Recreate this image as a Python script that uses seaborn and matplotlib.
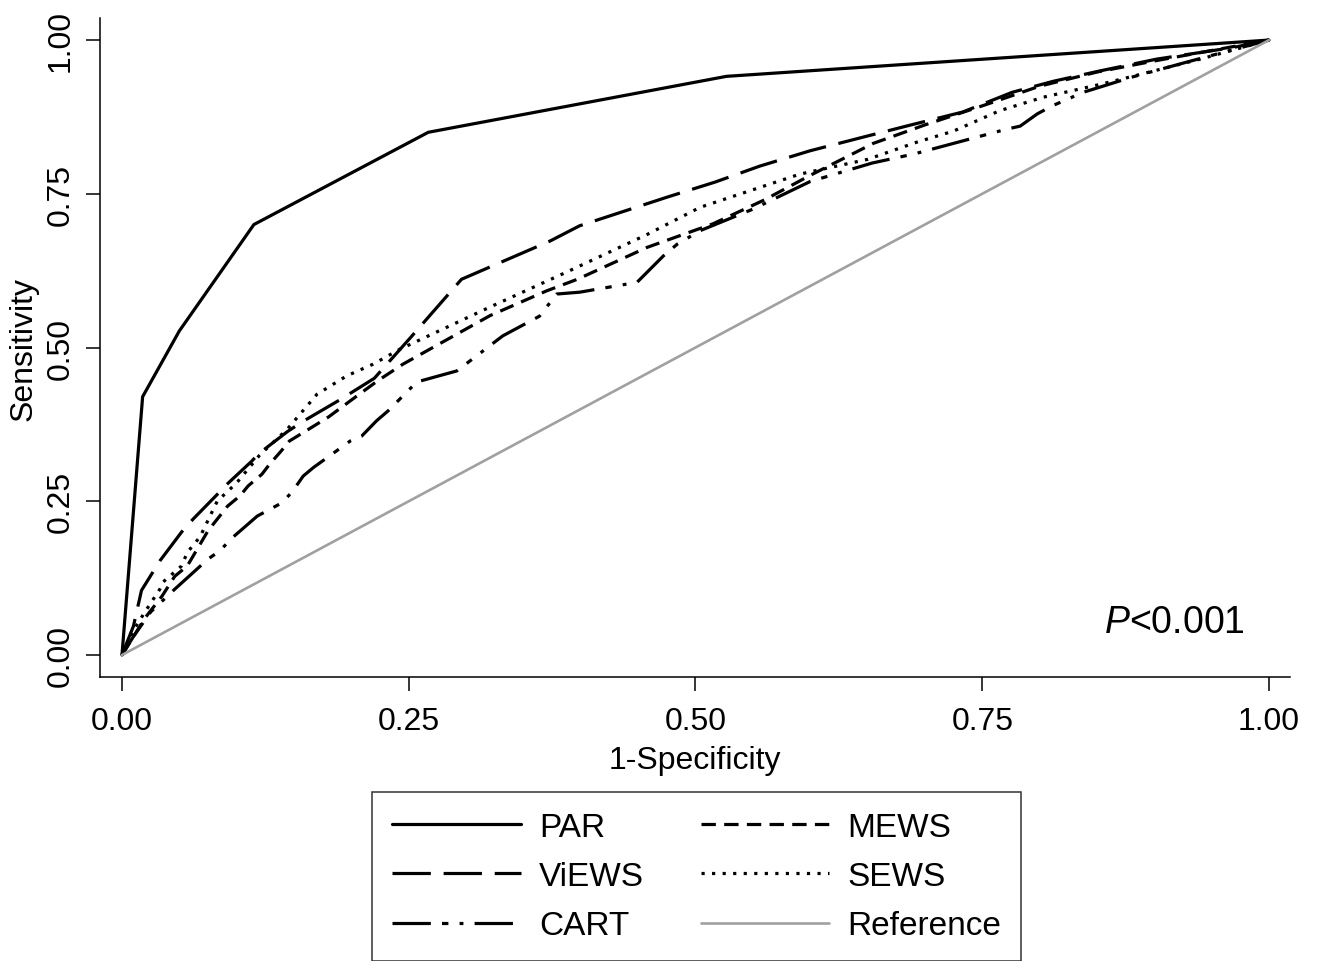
import matplotlib
matplotlib.use("Agg")
import matplotlib.pyplot as plt
import seaborn as sns

# ROC points (1-specificity, sensitivity)
par_x = [0.0, 0.018, 0.05, 0.115, 0.267, 0.527, 1.0]
par_y = [0.0, 0.42, 0.527, 0.70, 0.85, 0.941, 1.0]

views_x = [0.0, 0.01, 0.017, 0.027, 0.033, 0.052, 0.062, 0.083, 0.09, 0.113, 0.119, 0.144,
           0.157, 0.19, 0.22, 0.251, 0.296, 0.373, 0.399, 0.476, 0.517, 0.556, 0.6, 0.65,
           0.69, 0.733, 0.776, 0.812, 0.853, 0.902, 0.969, 1.0]
views_y = [0.0, 0.047, 0.105, 0.135, 0.153, 0.2, 0.221, 0.261, 0.275, 0.315, 0.327, 0.363,
           0.379, 0.415, 0.45, 0.515, 0.611, 0.673, 0.698, 0.745, 0.769, 0.795, 0.82, 0.844,
           0.863, 0.883, 0.915, 0.933, 0.95, 0.969, 0.988, 1.0]

cart_x = [0.0, 0.01, 0.025, 0.046, 0.075, 0.085, 0.097, 0.118, 0.14, 0.149, 0.158, 0.167,
          0.199, 0.209, 0.222, 0.232, 0.257, 0.292, 0.332, 0.364, 0.379, 0.399, 0.449, 0.472,
          0.484, 0.504, 0.55, 0.6, 0.654, 0.691, 0.733, 0.771, 0.783, 0.798, 0.811, 0.838,
          0.881, 0.928, 1.0]
cart_y = [0.0, 0.03, 0.07, 0.107, 0.156, 0.169, 0.192, 0.226, 0.248, 0.267, 0.291, 0.305,
          0.348, 0.356, 0.381, 0.397, 0.444, 0.462, 0.519, 0.551, 0.587, 0.59, 0.606, 0.649,
          0.668, 0.69, 0.725, 0.77, 0.80, 0.815, 0.836, 0.855, 0.86, 0.88, 0.893, 0.915,
          0.94, 0.964, 1.0]

mews_x = [0.0, 0.01, 0.02, 0.035, 0.046, 0.057, 0.075, 0.092, 0.103, 0.11, 0.122, 0.129,
          0.138, 0.146, 0.16, 0.18, 0.201, 0.223, 0.245, 0.321, 0.37, 0.397, 0.458, 0.515,
          0.56, 0.6, 0.655, 0.7, 0.75, 0.8, 0.85, 0.9, 0.95, 1.0]
mews_y = [0.0, 0.03, 0.06, 0.096, 0.128, 0.145, 0.202, 0.242, 0.259, 0.275, 0.294, 0.311,
          0.33, 0.348, 0.364, 0.387, 0.416, 0.446, 0.473, 0.552, 0.592, 0.611, 0.663, 0.701,
          0.74, 0.78, 0.832, 0.862, 0.893, 0.925, 0.948, 0.966, 0.983, 1.0]

sews_x = [0.0, 0.01, 0.02, 0.033, 0.036, 0.052, 0.057, 0.068, 0.083, 0.1, 0.12, 0.144,
          0.17, 0.196, 0.219, 0.242, 0.321, 0.388, 0.458, 0.504, 0.591, 0.65, 0.693, 0.725,
          0.765, 0.803, 0.853, 0.881, 0.94, 1.0]
sews_y = [0.0, 0.04, 0.07, 0.107, 0.119, 0.145, 0.167, 0.192, 0.25, 0.28, 0.325, 0.367,
          0.424, 0.454, 0.473, 0.497, 0.566, 0.623, 0.684, 0.728, 0.782, 0.806, 0.834, 0.852,
          0.885, 0.907, 0.928, 0.941, 0.969, 1.0]

ref_x = [0.0, 1.0]
ref_y = [0.0, 1.0]

ticks = [0.0, 0.25, 0.5, 0.75, 1.0]
tick_labels = ["0.00", "0.25", "0.50", "0.75", "1.00"]

sns.set_theme(style="ticks")
plt.rcParams['font.family'] = ['Liberation Sans', 'DejaVu Sans']
plt.rcParams['mathtext.fontset'] = 'custom'
plt.rcParams['mathtext.rm'] = 'Liberation Sans'
plt.rcParams['mathtext.it'] = 'Liberation Sans:italic'
plt.rcParams['text.color'] = 'black'

fig = plt.figure(figsize=(13.22, 9.62), dpi=100)
ax = fig.add_axes([0.076, 0.2952, 0.8998, 0.685])

lw = 2.3
sns.lineplot(x=par_x, y=par_y, ax=ax, color='black', lw=lw, linestyle='-',
             sort=False, estimator=None, label='PAR')
sns.lineplot(x=views_x, y=views_y, ax=ax, color='black', lw=lw, linestyle=(0, (12, 4)),
             sort=False, estimator=None, label='ViEWS')
sns.lineplot(x=cart_x, y=cart_y, ax=ax, color='black', lw=lw, linestyle=(0, (12, 3.5, 2, 3.5, 1.2, 3.5)),
             sort=False, estimator=None, label='CART')
sns.lineplot(x=mews_x, y=mews_y, ax=ax, color='black', lw=lw, linestyle=(0, (4.5, 2.6)),
             sort=False, estimator=None, label='MEWS')
sns.lineplot(x=sews_x, y=sews_y, ax=ax, color='black', lw=lw, linestyle=(0, (1.0, 2.3)),
             sort=False, estimator=None, label='SEWS')
sns.lineplot(x=ref_x, y=ref_y, ax=ax, color='#a0a0a0', lw=1.9, linestyle='-',
             sort=False, estimator=None, label='Reference')

ax.set_xlim(-0.01875, 1.0183)
ax.set_ylim(-0.0358, 1.0358)
ax.set_xticks(ticks)
ax.set_xticklabels(tick_labels)
ax.set_yticks(ticks)
ax.set_yticklabels(tick_labels, rotation=90, va='center')
ax.tick_params(axis='x', pad=11)
ax.tick_params(axis='y', pad=8)
ax.tick_params(axis='both', direction='out', length=10, width=1.1, color='black',
               labelsize=23, labelcolor='black')
for side in ['left', 'bottom']:
    ax.spines[side].set_color('black')
    ax.spines[side].set_linewidth(1.1)
sns.despine(ax=ax)

ax.set_xlabel('1-Specificity', fontsize=23, color='black', labelpad=6)
ax.set_ylabel('Sensitivity', fontsize=23, color='black', labelpad=5)

ax.text(0.979, 0.037, r'$\mathit{P}$<0.001', ha='right', va='baseline', fontsize=27, color='black')

handles, labels = ax.get_legend_handles_labels()
ax.get_legend().remove()
leg = fig.legend(handles, labels, ncol=2, loc='upper center', bbox_to_anchor=(0.527, 0.176),
                 fontsize=24, handlelength=3.85, handletextpad=0.55, columnspacing=1.7,
                 labelspacing=0.55, borderpad=0.6, borderaxespad=0, fancybox=False,
                 frameon=True, labelcolor='black')
leg.get_frame().set_edgecolor('black')
leg.get_frame().set_linewidth(1.1)

fig.savefig('out.png', dpi=100)
